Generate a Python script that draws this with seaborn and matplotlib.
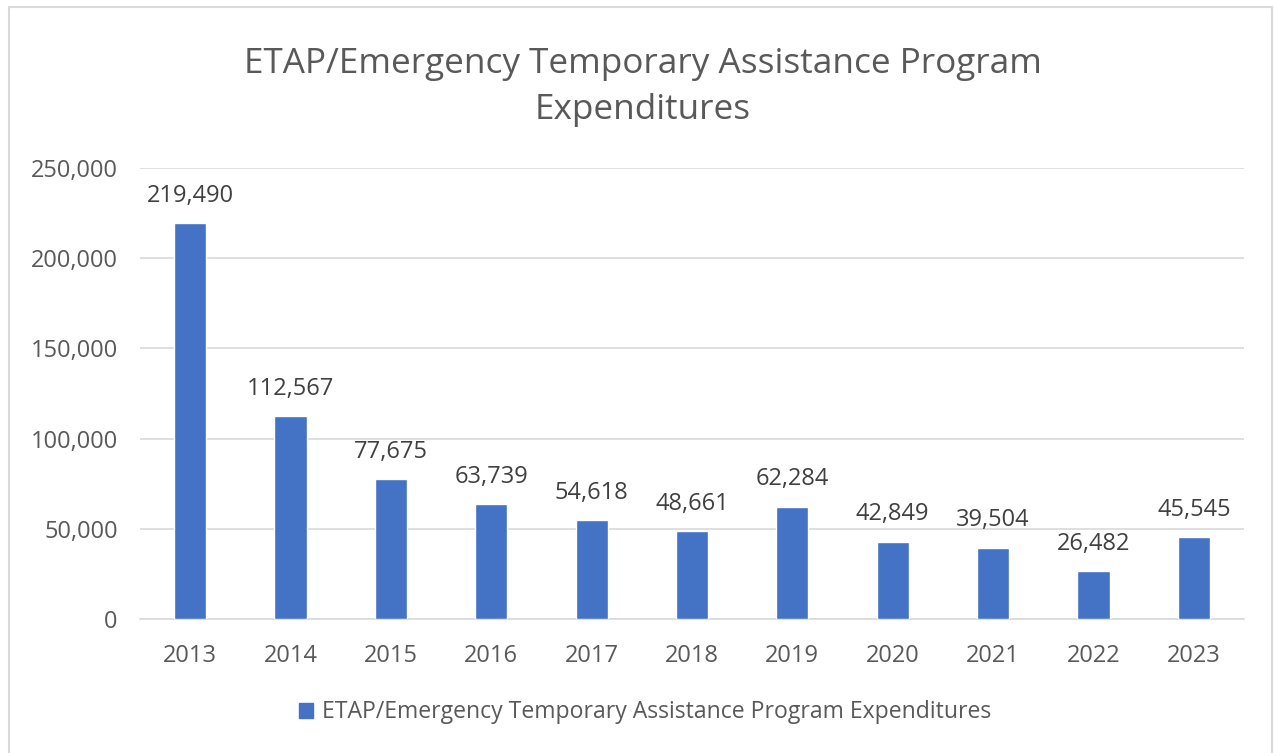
import matplotlib.pyplot as plt
import matplotlib.patches as mpatches
import seaborn as sns
import pandas as pd

years = ["2013", "2014", "2015", "2016", "2017", "2018", "2019", "2020", "2021", "2022", "2023"]
expenditures = [219490, 112567, 77675, 63739, 54618, 48661, 62284, 42849, 39504, 26482, 45545]
series_name = "ETAP/Emergency Temporary Assistance Program Expenditures"
title = "ETAP/Emergency Temporary Assistance Program\nExpenditures"

df = pd.DataFrame({"year": years, "value": expenditures})

sns.set_style("white")
plt.rcParams['font.family'] = ['Open Sans', 'DejaVu Sans']

bar_color = "#4472C4"
text_color = "#595959"

fig = plt.figure(figsize=(12.75, 7.53), dpi=100)
ax = fig.add_axes([0.1098, 0.178, 0.8659, 0.599])

sns.barplot(data=df, x="year", y="value", color=bar_color, width=0.32,
            saturation=1, ax=ax, zorder=3)

ax.set_ylim(0, 250000)
ax.set_yticks(range(0, 250001, 50000))
ax.yaxis.set_major_formatter(plt.FuncFormatter(lambda v, p: f"{int(v):,}"))
ax.grid(axis="y", color="#d9d9d9", linewidth=1.2, zorder=0)
ax.set_xlabel("")
ax.set_ylabel("")
for s in ["top", "right", "left"]:
    ax.spines[s].set_visible(False)
ax.spines["bottom"].set_color("#d9d9d9")
ax.spines["bottom"].set_linewidth(1.2)
ax.tick_params(axis="both", length=0, labelsize=17, labelcolor=text_color)
ax.tick_params(axis="y", pad=16)
ax.tick_params(axis="x", pad=18)

for i, v in enumerate(expenditures):
    ax.annotate(f"{v:,}", (i, v), xytext=(0, 11), textcoords="offset points",
                ha="center", va="bottom", fontsize=17, color="#404040")

fig.text(0.504, 0.884, title, ha="center", va="center", fontsize=25.3,
         color=text_color, linespacing=1.45)

handle = mpatches.Patch(color=bar_color, label=series_name)
leg = fig.legend(handles=[handle], loc="center", bbox_to_anchor=(0.506, 0.054),
                 frameon=False, fontsize=16.6, handlelength=0.6, handleheight=0.6,
                 handletextpad=0.4)
for t in leg.get_texts():
    t.set_color(text_color)

fig.patches.append(mpatches.Rectangle((9 / 1275, -0.01), 1263 / 1275, 1 - 7 / 753 + 0.01,
                                      transform=fig.transFigure, fill=False,
                                      edgecolor="#d9d9d9", linewidth=1.5))

fig.savefig("out.png", dpi=100)
